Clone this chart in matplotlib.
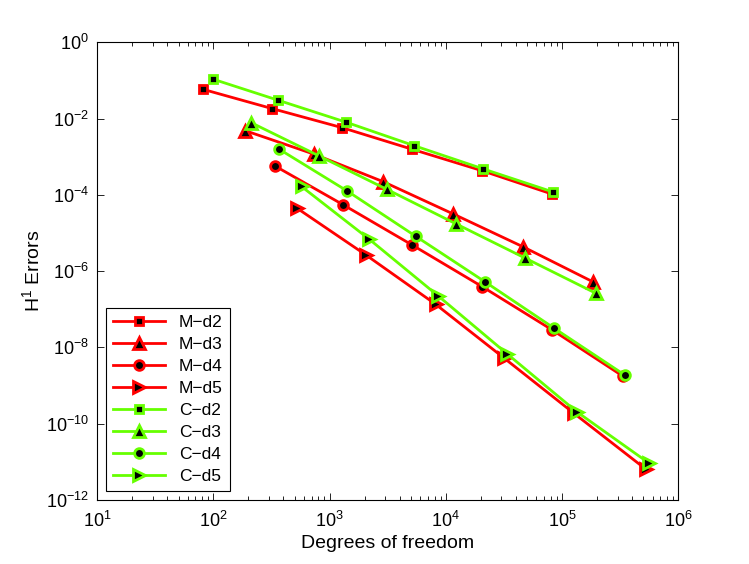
import matplotlib
matplotlib.use("Agg")
import matplotlib.pyplot as plt

plt.rcParams['font.family'] = ['Liberation Sans', 'DejaVu Sans']
plt.rcParams['mathtext.fontset'] = 'custom'
plt.rcParams['mathtext.rm'] = 'Liberation Sans'

# degrees of freedom
dof_m2 = [81, 321, 1281, 5121, 20481, 81921]
dof_c2 = [100, 361, 1369, 5329, 21025, 83521]
dof_m3 = [188, 737, 2893, 11580, 46100, 183400]
dof_c3 = [211, 804, 3096, 12300, 48350, 195700]
dof_m4 = [336, 1307, 5129, 20560, 82400, 332000]
dof_c4 = [368, 1417, 5510, 21830, 85700, 346000]
dof_m5 = [528, 2052, 8140, 31620, 126500, 527000]
dof_c5 = [572, 2193, 8600, 33750, 133600, 562000]

# H1 errors
err_m2 = [5.86e-2, 1.82e-2, 5.77e-3, 1.57e-3, 4.30e-4, 1.05e-4]
err_c2 = [1.07e-1, 3.02e-2, 8.13e-3, 1.95e-3, 4.77e-4, 1.19e-4]
err_m3 = [4.81e-3, 1.16e-3, 2.21e-4, 3.15e-5, 4.35e-6, 5.28e-7]
err_c3 = [7.80e-3, 1.06e-3, 1.40e-4, 1.72e-5, 2.18e-6, 2.62e-7]
err_m4 = [5.78e-4, 5.49e-5, 4.84e-6, 3.91e-7, 2.86e-8, 1.78e-9]
err_c4 = [1.57e-3, 1.26e-4, 8.19e-6, 5.19e-7, 3.17e-8, 1.89e-9]
err_m5 = [4.39e-5, 2.65e-6, 1.36e-7, 5.28e-9, 1.87e-10, 6.37e-12]
err_c5 = [1.66e-4, 6.84e-6, 2.23e-7, 6.73e-9, 2.06e-10, 9.16e-12]

labels = ['M\u2212d2', 'M\u2212d3', 'M\u2212d4', 'M\u2212d5',
          'C\u2212d2', 'C\u2212d3', 'C\u2212d4', 'C\u2212d5']

red = '#ff0000'
green = '#66ff00'

series = [
    (dof_m2, err_m2, 's', red, 6),
    (dof_m3, err_m3, '^', red, 8),
    (dof_m4, err_m4, 'o', red, 7),
    (dof_m5, err_m5, '>', red, 8),
    (dof_c2, err_c2, 's', green, 6),
    (dof_c3, err_c3, '^', green, 8),
    (dof_c4, err_c4, 'o', green, 7),
    (dof_c5, err_c5, '>', green, 8),
]

fig = plt.figure(figsize=(7.49, 5.64), dpi=100)
ax = fig.add_axes([0.1299, 0.1135, 0.7757, 0.8115])

for (x, y, m, c, ms), lab in zip(series, labels):
    ax.loglog(x, y, color=c, lw=2, marker=m, ms=ms, mfc='k', mec=c,
              mew=2, label=lab, clip_on=False)

ax.set_xlim(1e1, 1e6)
ax.set_ylim(1e-12, 1e0)
ax.set_yticks([10.0**k for k in range(-12, 1, 2)])
ax.minorticks_on()
ax.yaxis.set_minor_locator(matplotlib.ticker.NullLocator())
ax.tick_params(which='both', direction='in', top=True, right=True,
               labelsize=13, width=0.6)
ax.tick_params(which='major', length=5)
ax.tick_params(which='minor', length=3)
ax.tick_params(axis='x', pad=8)
ax.tick_params(axis='y', pad=6)
for s in ax.spines.values():
    s.set_linewidth(0.8)

ax.set_xlabel('Degrees of freedom', fontsize=14, labelpad=3)
ax.set_ylabel('H$^1$ Errors', fontsize=14, labelpad=1)

leg = ax.legend(loc='lower left', fontsize=12.5, fancybox=False,
                edgecolor='k', framealpha=1, handlelength=3.0,
                borderaxespad=0.5, labelspacing=0.4)
leg.get_frame().set_linewidth(0.8)

fig.savefig('out.png', dpi=100)
